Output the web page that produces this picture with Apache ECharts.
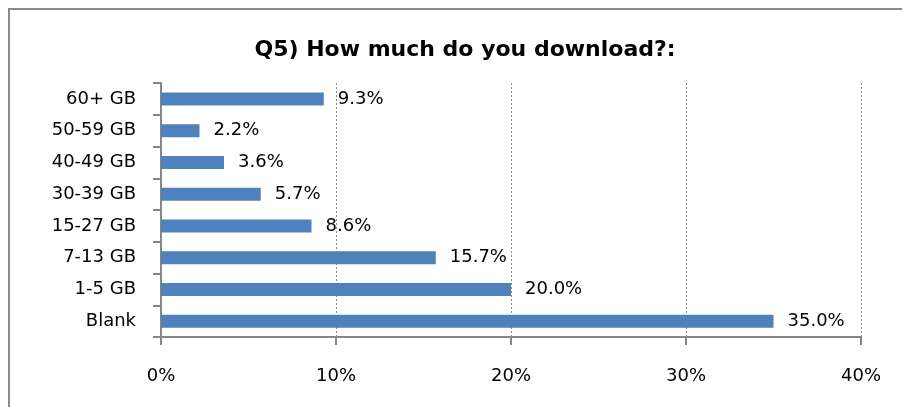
<!DOCTYPE html>
<html>

<head>
    <meta charset="utf-8">
    <title>Q5) How much do you download?</title>
    <script src="https://cdn.jsdelivr.net/npm/echarts@6/dist/echarts.min.js"></script>
    <style>
        html, body { margin: 0; padding: 0; background: #fff; overflow: hidden; }
        #frame {
            position: absolute; left: 8px; top: 8px;
            width: 920px; height: 420px;
            border: 2px solid #8a8a8a;
        }
        #main { position: absolute; left: 0; top: 0; width: 902px; height: 407px; }
    </style>
</head>

<body>
    <div id="frame"></div>
    <div id="main"></div>
    <script type="text/javascript">
        // categories, top to bottom as in the picture
        var categories = ['60+ GB', '50-59 GB', '40-49 GB', '30-39 GB', '15-27 GB', '7-13 GB', '1-5 GB', 'Blank'];
        // share of answers, in percent
        var shares = [9.3, 2.2, 3.6, 5.7, 8.6, 15.7, 20.0, 35.0];
        var xTicks = [0, 10, 20, 30, 40];

        var font = 'DejaVu Sans';
        var axisGray = '#868686';

        var myChart = echarts.init(document.getElementById('main'));

        var option = {
            animation: false,
            title: {
                text: 'Q5) How much do you download?:',
                left: 460,
                top: 34,
                textAlign: 'center',
                textStyle: {
                    fontFamily: font,
                    fontWeight: 'bold',
                    fontSize: 22,
                    color: '#000'
                }
            },
            grid: {
                left: 161,
                right: 41,
                top: 83,
                bottom: 70,
                containLabel: false
            },
            xAxis: {
                type: 'value',
                min: xTicks[0],
                max: xTicks[xTicks.length - 1],
                interval: 10,
                axisLine: { show: true, lineStyle: { color: axisGray, width: 2 } },
                axisTick: { show: true, length: 8, lineStyle: { color: axisGray, width: 2 } },
                axisLabel: {
                    margin: 30,
                    fontFamily: font,
                    fontSize: 18,
                    color: '#000',
                    formatter: '{value}%'
                },
                splitLine: {
                    show: true,
                    lineStyle: { color: '#8a8a8a', type: [2, 2], width: 1 }
                }
            },
            yAxis: {
                type: 'category',
                data: categories,
                inverse: true,
                axisLine: { show: true, lineStyle: { color: axisGray, width: 2 } },
                axisTick: { show: true, length: 8, lineStyle: { color: axisGray, width: 2 } },
                axisLabel: {
                    margin: 25,
                    fontFamily: font,
                    fontSize: 18,
                    color: '#000'
                },
                splitLine: { show: false }
            },
            series: [{
                type: 'bar',
                data: shares,
                barWidth: 13,
                itemStyle: { color: '#4f81bd' },
                label: {
                    show: true,
                    position: 'right',
                    distance: 14,
                    fontFamily: font,
                    fontSize: 18,
                    color: '#000',
                    formatter: function (p) { return p.value.toFixed(1) + '%'; }
                }
            }]
        };

        myChart.setOption(option, true);
    </script>
</body>

</html>
